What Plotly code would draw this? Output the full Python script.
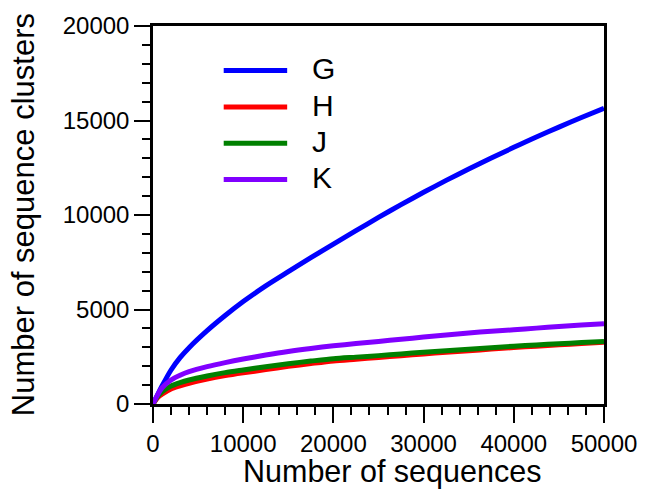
import plotly.graph_objects as go

# ---- data ----
seq_x = [0, 500, 1000, 2000, 3000, 4000, 6000, 8000, 10000, 12500, 15000, 17500, 20000,
         22500, 25000, 27500, 30000, 32500, 35000, 37500, 40000, 42500, 45000, 47500, 50000]
G_vals = [0, 480, 950, 1800, 2450, 2980, 3880, 4680, 5420, 6250, 7000, 7740, 8460,
          9170, 9870, 10550, 11200, 11830, 12430, 13010, 13580, 14130, 14650, 15160, 15650]
H_vals = [0, 330, 520, 800, 960, 1100, 1320, 1500, 1650, 1820, 1990, 2140, 2280,
          2370, 2460, 2555, 2650, 2735, 2820, 2905, 2990, 3060, 3130, 3200, 3270]
J_vals = [0, 400, 650, 950, 1130, 1270, 1480, 1660, 1800, 1970, 2130, 2270, 2400,
          2480, 2560, 2650, 2740, 2820, 2900, 2980, 3060, 3125, 3190, 3250, 3310]
K_vals = [0, 470, 850, 1270, 1520, 1710, 1975, 2190, 2380, 2590, 2780, 2940, 3080,
          3195, 3310, 3425, 3540, 3650, 3760, 3845, 3930, 4015, 4100, 4175, 4250]

series_names = ["G", "H", "J", "K"]
series_vals = [G_vals, H_vals, J_vals, K_vals]
series_colors = ["#0000FF", "#FF0000", "#008000", "#8000FF"]

x_ticks = [0, 10000, 20000, 30000, 40000, 50000]
y_ticks = [0, 5000, 10000, 15000, 20000]

x_title = "Number of sequences"
y_title = "Number of sequence clusters"

FONT = "Liberation Sans, Arial, Helvetica, sans-serif"

fig = go.Figure()
for name, vals, col in zip(series_names, series_vals, series_colors):
    fig.add_trace(go.Scatter(x=seq_x, y=vals, mode="lines", name=name,
                             line=dict(color=col, width=5, shape="spline", smoothing=0.8),
                             showlegend=False))

# ---- layout geometry (pixels) ----
W, H = 649, 496
L, R, T, B = 152.7, 41.5, 26, 91.7
pw, ph = W - L - R, H - T - B
def px(xp):
    return (xp - L) / pw
def py(yp):
    return (H - B - yp) / ph

# ---- manual legend (long line samples like the reference) ----
leg_y = [70.5, 107, 143.3, 179.5]
for name, col, yy in zip(series_names, series_colors, leg_y):
    fig.add_shape(type="line", xref="paper", yref="paper",
                  x0=px(224), x1=px(288), y0=py(yy), y1=py(yy),
                  line=dict(color=col, width=5))
    fig.add_annotation(xref="paper", yref="paper", x=px(311), y=py(yy - 1.5),
                       text=name, showarrow=False, xanchor="left", yanchor="middle",
                       font=dict(family=FONT, size=30, color="black"))

# ---- axis titles as annotations ----
fig.add_annotation(xref="paper", yref="paper", x=px(394), y=py(472),
                   text=x_title, showarrow=False, xanchor="center", yanchor="middle",
                   font=dict(family=FONT, size=30.5, color="black"))
fig.add_annotation(xref="paper", yref="paper", x=px(22), y=py(215),
                   text=y_title, showarrow=False, xanchor="center", yanchor="middle",
                   textangle=-90,
                   font=dict(family=FONT, size=31, color="black"))

axis_common = dict(
    showline=True, linecolor="black", linewidth=2.5, mirror=True,
    ticks="outside", ticklen=16, tickwidth=2, tickcolor="black",
    showgrid=False, zeroline=False,
    tickfont=dict(family=FONT, size=24, color="black"),
)

fig.update_xaxes(range=[0, 50000], tickvals=x_ticks, ticktext=[str(v) for v in x_ticks],
                 minor=dict(dtick=2000, ticklen=8, tickwidth=2, tickcolor="black", ticks="outside"),
                 **axis_common)
fig.update_yaxes(range=[0, 20000], tickvals=y_ticks, ticktext=[str(v) for v in y_ticks],
                 minor=dict(dtick=1000, ticklen=8, tickwidth=2, tickcolor="black", ticks="outside"),
                 **axis_common)

fig.update_layout(width=W, height=H, margin=dict(l=L, r=R, t=T, b=B),
                  plot_bgcolor="white", paper_bgcolor="white",
                  font=dict(family=FONT, color="black"))

fig.write_html("out.html")
